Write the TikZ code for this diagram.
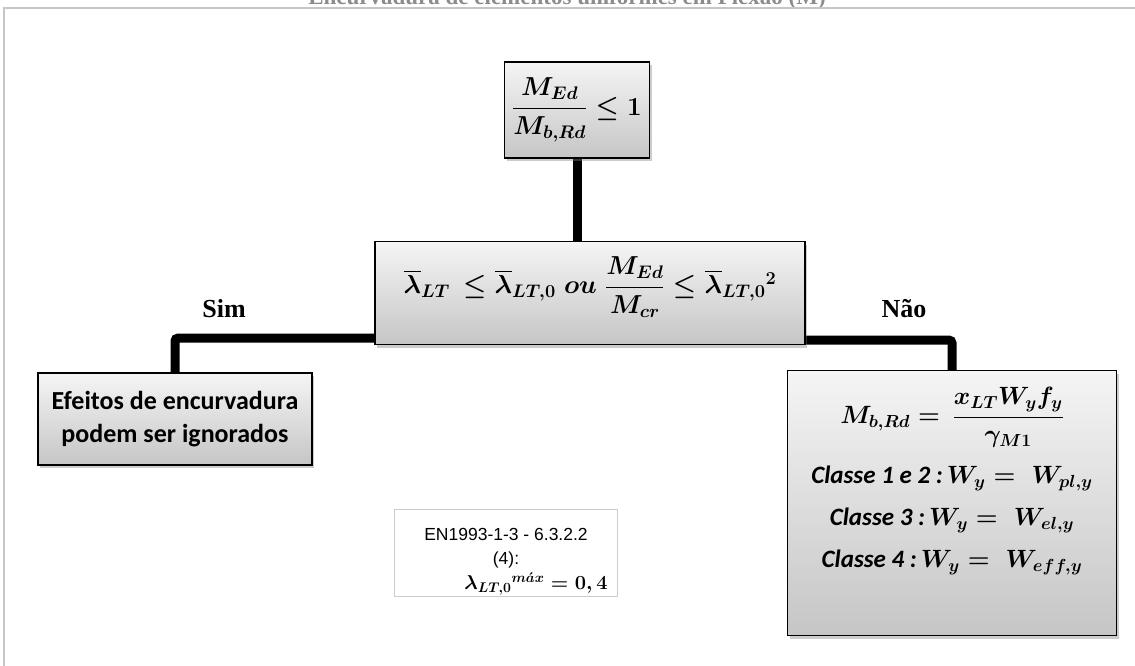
\documentclass[tikz,border=0pt]{standalone}
\usepackage{fix-cm}
\usepackage{amsmath, amssymb}
\usepackage{fontspec}
\usepackage{tikz}
\usetikzlibrary{calc, shadows, backgrounds, positioning}
\newfontfamily\calibrifont{Carlito}
\newfontfamily\arialfont{Liberation Sans}
\newfontfamily\timesfont{Liberation Serif}

\tikzset{
    caixa/.style={draw=black, line width=1.2pt, top color=gray!8, bottom color=gray!45,
        drop shadow={shadow xshift=2pt, shadow yshift=-3pt, opacity=0.4}, inner sep=4pt},
    ligacao/.style={line width=9pt, rounded corners=3pt},
    rotulo/.style={font=\timesfont\bfseries\fontsize{26}{30}\selectfont},
    formula/.style={font=\fontsize{26}{30}\selectfont\boldmath}
}

\begin{document}
\begin{tikzpicture}[x=1pt, y=-1pt]
            \useasboundingbox (0,0) rectangle (1135,666);
            \clip (0,0) rectangle (1135,666);

            % 1. Título e moldura
            \node[anchor=base, text=gray!90, font=\timesfont\bfseries\fontsize{23}{26}\selectfont] (titulo) at (567,5) {Encurvadura de elementos uniformes em Flexão (M)};
            \draw[gray!45, line width=2pt] (1135,8) -- (4,8) -- (4,666);

            % 2. Caixas
            \node[caixa, formula, minimum width=145pt, minimum height=96pt] (cond) at (577,110)
                {$\dfrac{M_{Ed}}{M_{b,Rd}}\le 1$};
            \node[caixa, formula, minimum width=430pt, minimum height=103pt] (check) at (590,293)
                {$\overline{\lambda}_{LT}\,\le\overline{\lambda}_{LT,0}\;ou\;\dfrac{M_{Ed}}{M_{cr}}\le\overline{\lambda}_{LT,0}{}^{2}$\rule[-36pt]{0pt}{10pt}};
            \node[caixa, minimum width=274pt, minimum height=92pt, align=center,
                font=\calibrifont\bfseries\fontsize{26}{33}\selectfont] (ignore) at (175,419)
                {Efeitos de encurvadura\\podem ser ignorados};
            \node[caixa, minimum width=329pt, minimum height=265pt] (resist) at (952,503) {};
            \node[anchor=north, align=center, font=\fontsize{25}{30}\selectfont\boldmath] (resisttxt) at (952,384)
                {$M_{b,Rd}=\,\dfrac{x_{LT}W_yf_y}{\gamma_{M1}}$\\[18pt]
                 {\calibrifont\bfseries\itshape Classe 1 e 2 :}\,$W_y=\;W_{pl,y}$\\[12pt]
                 {\calibrifont\bfseries\itshape Classe 3 :}\,$W_y=\;W_{el,y}$\\[12pt]
                 {\calibrifont\bfseries\itshape Classe 4 :}\,$W_y=\;W_{eff,y}$};
            \node[draw=gray!40, line width=1.5pt, fill=white, minimum width=223pt, minimum height=87pt] (nota) at (506,553) {};
            \node[anchor=north, align=center, inner sep=0pt, font=\arialfont\fontsize{17.5}{24}\selectfont\boldmath] (notatxt) at (506,528)
                {EN1993-1-3 - 6.3.2.2\\{(4):}\\[1pt]{\hspace*{60pt}\fontsize{20}{24}\selectfont$\lambda_{LT,0}{}^{m\acute{a}x}=0,4$}};

            % 3. Rótulos
            \node[rotulo] (sim) at (224,309) {Sim};
            \node[rotulo] (nao) at (904,309) {Não};

            % 4. Ligações
            \begin{scope}[on background layer]
                \draw[ligacao] (cond.south) -- (cond.south |- check.north);
                \draw[ligacao] ([yshift=7pt]check.south west) -| (ignore.north);
                \draw[ligacao] ([yshift=5pt]check.south east) -| (resist.north);
            \end{scope}
        \end{tikzpicture}
\end{document}
